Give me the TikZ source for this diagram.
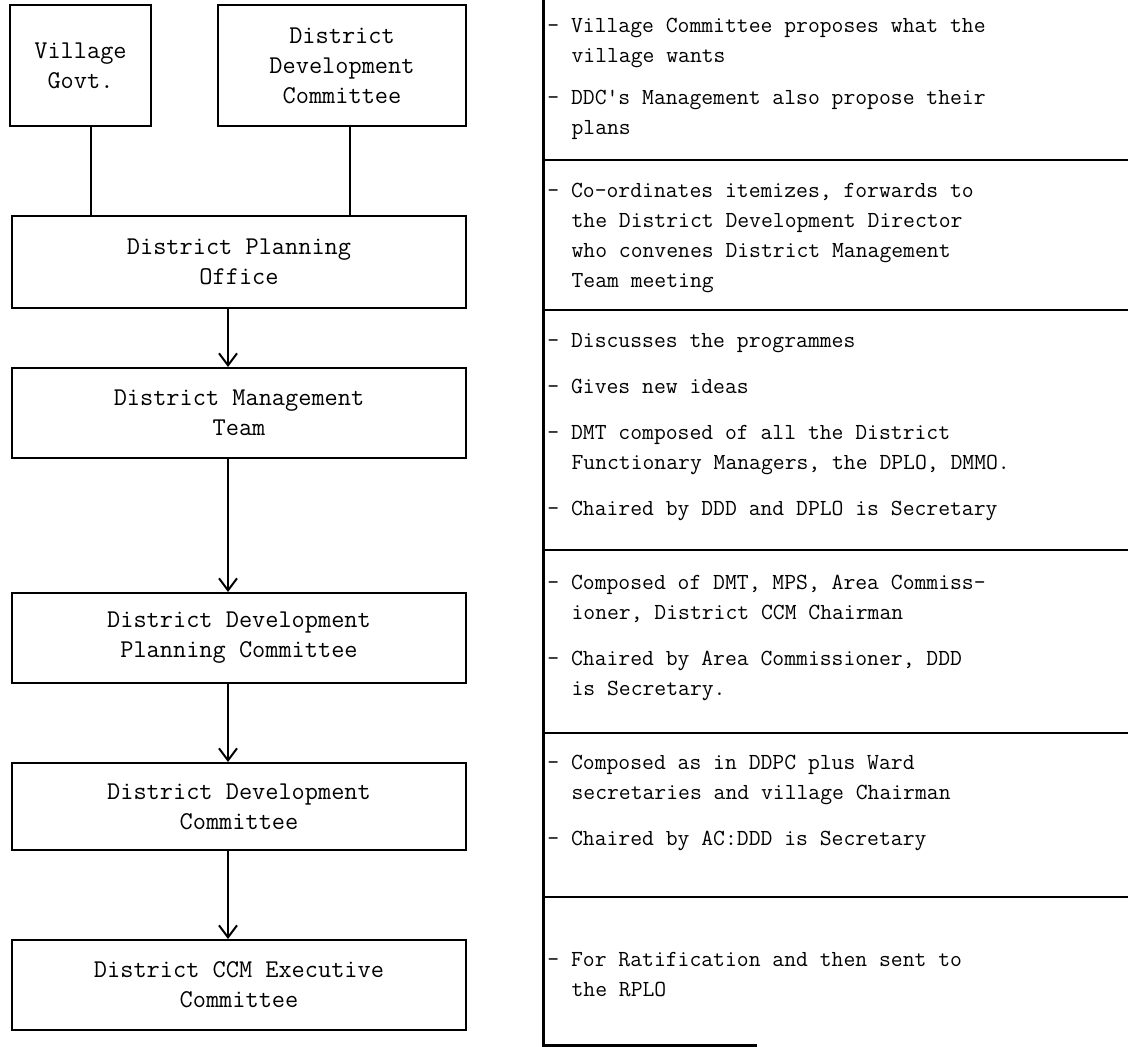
\documentclass[tikz,border=0pt]{standalone}
\usepackage{fontspec}
\usepackage{tikz}
\usetikzlibrary{arrows.meta}

\newcommand{\hangin}{\hspace*{1.05em}}

\begin{document}
\begin{tikzpicture}[x=0.5pt,y=-0.5pt]
					\definecolor{cbox}{rgb}{0.0,0.0,0.0}
					\definecolor{cfbox}{rgb}{1.0,1.0,1.0}
					\definecolor{ctext}{rgb}{0.0,0.0,0.0}
					\definecolor{crule}{rgb}{0.0,0.0,0.0}
					\tikzset{
						office/.style={draw=cbox,fill=cfbox,text=ctext,line width=1pt,shape=rectangle,align=center,inner sep=0pt,font=\ttfamily\fontsize{12.8}{15}\selectfont},
						link/.style={draw=cbox,line width=1pt},
						flow/.style={link,-{Straight Barb[length=6pt,width=9pt,line width=1pt]}},
						note/.style={anchor=base west,align=left,inner sep=0pt,text=ctext,font=\ttfamily\fontsize{11.5}{15}\selectfont},
						rule/.style={draw=crule,line width=1pt}
					}
					\useasboundingbox (0,0) rectangle (1128,1047);
					%
					\node[office,minimum width=70.5pt,minimum height=60.5pt] (vg) at (80.5,65.5) {Village\\Govt.};
					\node[office,minimum width=124pt,minimum height=60.5pt] (ddctop) at (342,65.5) {District\\Development\\Committee};
					\node[office,minimum width=227pt,minimum height=46pt] (dpo) at (239,262) {District Planning\\Office};
					\node[office,minimum width=227pt,minimum height=45pt] (dmt) at (239,413) {District Management\\Team};
					\node[office,minimum width=227pt,minimum height=45pt] (ddpc) at (239,638) {District Development\\Planning Committee};
					\node[office,minimum width=227pt,minimum height=43.5pt] (ddc) at (239,806.5) {District Development\\Committee};
					\node[office,minimum width=227pt,minimum height=45pt] (cce) at (239,985) {District CCM Executive\\Committee};
					%
					\coordinate (spine) at (228,0);
					\draw[link] (vg.-80) -- (vg.-80 |- dpo.north);
					\draw[link] (ddctop.-83) -- (ddctop.-83 |- dpo.north);
					\draw[flow] (dpo.south -| spine) -- (dmt.north -| spine);
					\draw[flow] (dmt.south -| spine) -- (ddpc.north -| spine);
					\draw[flow] (ddpc.south -| spine) -- (ddc.north -| spine);
					\draw[flow] (ddc.south -| spine) -- (cce.north -| spine);
					%
					\coordinate (divtop) at (543,0);
					\coordinate (divbot) at (543,1045);
					\draw[rule,line width=1.5pt] (divtop) -- (divbot) -- ++(214,0);
					\foreach \y in {160,310,550,733,897}
						\draw[rule] (543,\y) -- (1128,\y);
					%
					% notes are placed by the baseline of their last line
					\node[note] (n1) at (547,135) {- Village Committee proposes what the\\\hangin village wants\\[6pt]- DDC's Management also propose their\\\hangin plans};
					\node[note] (n2) at (547,288) {- Co-ordinates itemizes, forwards to\\\hangin the District Development Director\\\hangin who convenes District Management\\\hangin Team meeting};
					\node[note] (n3) at (547,515) {- Discusses the programmes\\[8pt]- Gives new ideas\\[8pt]- DMT composed of all the District\\\hangin Functionary Managers, the DPLO, DMMO.\\[8pt]- Chaired by DDD and DPLO is Secretary};
					\node[note] (n4) at (547,695) {- Composed of DMT, MPS, Area Commiss-\\\hangin ioner, District CCM Chairman\\[8pt]- Chaired by Area Commissioner, DDD\\\hangin is Secretary.};
					\node[note] (n5) at (547,845) {- Composed as in DDPC plus Ward\\\hangin secretaries and village Chairman\\[8pt]- Chaired by AC:DDD is Secretary};
					\node[note] (n6) at (547,996) {- For Ratification and then sent to\\\hangin the RPLO};
					%
				\end{tikzpicture}
\end{document}
